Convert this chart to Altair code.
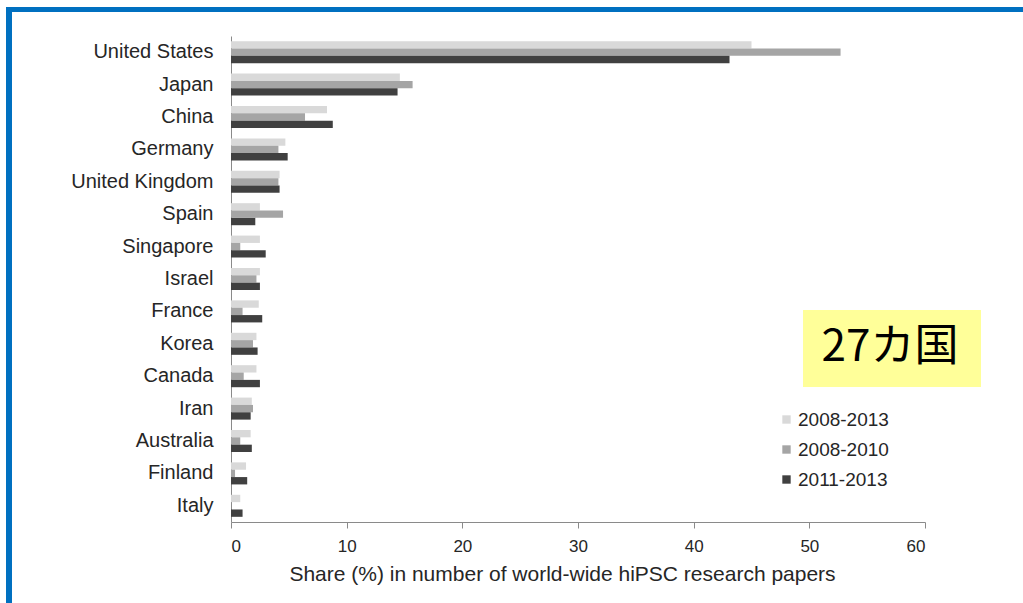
import altair as alt
import pandas as pd

countries = ["United States", "Japan", "China", "Germany", "United Kingdom", "Spain",
             "Singapore", "Israel", "France", "Korea", "Canada", "Iran", "Australia",
             "Finland", "Italy"]
series = ["2008-2013", "2008-2010", "2011-2013"]
share_2008_2013 = [45.0, 14.6, 8.3, 4.7, 4.2, 2.5, 2.5, 2.5, 2.4, 2.2, 2.2, 1.8, 1.7, 1.3, 0.8]
share_2008_2010 = [52.7, 15.7, 6.4, 4.1, 4.1, 4.5, 0.8, 2.2, 1.0, 1.9, 1.1, 1.9, 0.8, 0.35, 0.0]
share_2011_2013 = [43.1, 14.4, 8.8, 4.9, 4.2, 2.1, 3.0, 2.5, 2.7, 2.3, 2.5, 1.7, 1.8, 1.4, 1.0]
colors = ["#d9d9d9", "#a5a5a5", "#404040"]
x_ticks = [0, 10, 20, 30, 40, 50, 60]

rows = []
for s, vals in zip(series, [share_2008_2013, share_2008_2010, share_2011_2013]):
    for c, v in zip(countries, vals):
        rows.append({"country": c, "period": s, "share": v})
df = pd.DataFrame(rows)

PAD_L, PAD_T, PAD_R, PAD_B = 231, 36, 98, 81
W, H = 1023 - PAD_L - PAD_R, 603 - PAD_T - PAD_B

bars = alt.Chart(df).mark_bar().encode(
    y=alt.Y("country:N", sort=countries,
            scale=alt.Scale(paddingInner=0.32, paddingOuter=0.16),
            axis=alt.Axis(title=None, labelFontSize=20, labelFont="Liberation Sans",
                          labelColor="#262626", labelPadding=18, ticks=False,
                          domainColor="#8a8a8a", labelLimit=300)),
    yOffset=alt.YOffset("period:N", sort=series,
                        scale=alt.Scale(paddingInner=0, paddingOuter=0)),
    x=alt.X("share:Q", scale=alt.Scale(domain=[0, 60], nice=False),
            axis=alt.Axis(values=x_ticks, grid=False, title="Share (%) in number of world-wide hiPSC research papers",
                          titleFont="Liberation Sans", titleFontSize=21, titleFontWeight="normal",
                          titleColor="#262626", titlePadding=9, titleX=331,
                          labelFont="Liberation Sans Narrow, Liberation Sans", labelFontSize=17,
                          labelColor="#262626", labelPadding=10, tickSize=6,
                          tickColor="#8a8a8a", domainColor="#8a8a8a")),
    color=alt.Color("period:N", scale=alt.Scale(domain=series, range=colors),
                    legend=alt.Legend(title=None, orient="none", legendX=546, legendY=374,
                                      symbolType="square", symbolSize=70, symbolStrokeWidth=0,
                                      labelFontSize=19, labelFont="Liberation Sans",
                                      labelColor="#262626", rowPadding=10, labelOffset=2,
                                      padding=0)),
)

one = pd.DataFrame({"a": [0]})

box = alt.Chart(one).mark_rect(color="#ffff99").encode(
    x=alt.value(803 - PAD_L), x2=alt.value(981 - PAD_L),
    y=alt.value(310 - PAD_T), y2=alt.value(387 - PAD_T))
label = alt.Chart(one).mark_text(text="27カ国", font="Noto Sans CJK JP", fontSize=44,
                                 color="#000000", align="center", baseline="middle").encode(
    x=alt.value(890 - PAD_L), y=alt.value(348 - PAD_T))

frame_left = alt.Chart(one).mark_rule(color="#0070c0", strokeWidth=6).encode(
    x=alt.value(9 - PAD_L), y=alt.value(7 - PAD_T), y2=alt.value(603 - PAD_T))
frame_top = alt.Chart(one).mark_rule(color="#0070c0", strokeWidth=5).encode(
    y=alt.value(9.5 - PAD_T), x=alt.value(6 - PAD_L), x2=alt.value(1023 - PAD_L))

chart = alt.layer(bars, box, label, frame_left, frame_top).properties(
    width=W, height=H,
    padding={"left": PAD_L, "top": PAD_T, "right": PAD_R, "bottom": PAD_B},
    autosize=alt.AutoSizeParams(type="none"),
    background="white",
).configure_view(strokeWidth=0)

chart.save("out.html", embed_options={"renderer": "svg", "actions": False})
